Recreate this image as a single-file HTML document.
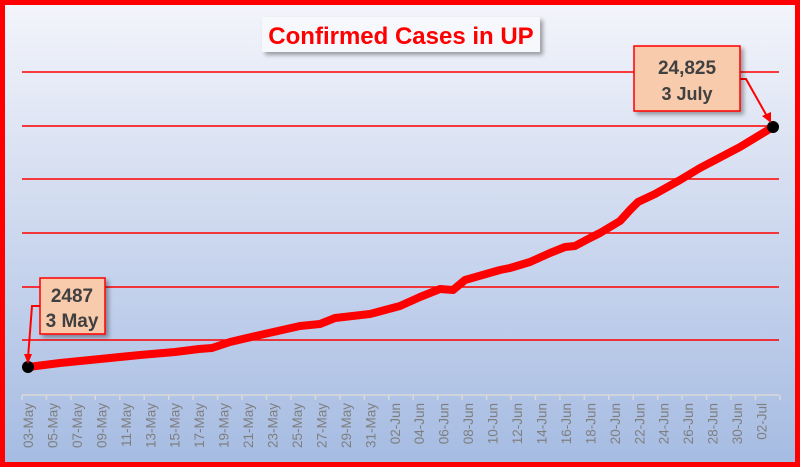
<!DOCTYPE html>
<html><head><style>
body{margin:0;width:800px;height:467px;overflow:hidden;font-family:"Liberation Sans",sans-serif}
</style></head><body>
<svg width="800" height="467" viewBox="0 0 800 467" xmlns="http://www.w3.org/2000/svg">
<defs>
<linearGradient id="bg" x1="0" y1="0" x2="0" y2="1">
<stop offset="0" stop-color="#f4f5fb"/><stop offset="1" stop-color="#a5bbe2"/>
</linearGradient>
<filter id="sh" x="-10%" y="-10%" width="130%" height="140%"><feDropShadow dx="3" dy="3" stdDeviation="2" flood-color="#000" flood-opacity="0.35"/></filter>
</defs>
<rect x="0" y="0" width="800" height="467" fill="url(#bg)"/>
<rect x="2.5" y="2.5" width="795" height="462" fill="none" stroke="#ff0000" stroke-width="5"/>
<g stroke="#ff0000" stroke-width="1.5">
<line x1="22" y1="72" x2="779" y2="72"/><line x1="22" y1="126" x2="779" y2="126"/>
<line x1="22" y1="179" x2="779" y2="179"/><line x1="22" y1="233" x2="779" y2="233"/>
<line x1="22" y1="287" x2="779" y2="287"/><line x1="22" y1="340" x2="779" y2="340"/>
</g>
<line x1="22" y1="395" x2="779" y2="395" stroke="#d9d9d9" stroke-width="1.5"/>
<g id="ticks" stroke="#d9d9d9" stroke-width="1.5"></g>
<g id="labels" font-size="13.5" fill="#7f7f7f" text-anchor="end"></g>
<polyline fill="none" stroke="#ff0000" stroke-width="8" stroke-linejoin="round" stroke-linecap="round"
points="28,367 60,363 100,359 140,355 175,352 199,349 212,348 230,342 260,335 300,326 320,324 335,318 370,314 400,306 420,297 440,289 453,290 465,280 500,270 510,268 530,262 550,253 565,247 575,246 590,238 600,233 620,221 630,210 638,202 655,194 680,180 700,168 740,147 773,127"/>
<circle cx="28" cy="367" r="6" fill="#000"/>
<circle cx="773" cy="127" r="6" fill="#000"/>
<rect x="262" y="17" width="278" height="35" fill="#f7f8fc" filter="url(#sh)"/>
<text x="401" y="44" text-anchor="middle" font-size="24" font-weight="bold" fill="#ff0000">Confirmed Cases in UP</text>
<polyline points="40,306 32,306 28,358" fill="none" stroke="#ff0000" stroke-width="2"/>
<polygon points="24,354 32,354 28,364" fill="#ff0000"/>
<rect x="40" y="278" width="65" height="56" fill="#f8cbad" stroke="#ff0000" stroke-width="1.5" filter="url(#sh)"/>
<text x="72" y="302" text-anchor="middle" font-size="19" font-weight="bold" fill="#404040">2487</text>
<text x="72" y="327" text-anchor="middle" font-size="19" font-weight="bold" fill="#404040">3 May</text>
<polyline points="740,79 746,79 768,118" fill="none" stroke="#ff0000" stroke-width="2"/>
<polygon points="762,116 771,112 771,123" fill="#ff0000"/>
<rect x="634" y="46" width="106" height="65" fill="#f8cbad" stroke="#ff0000" stroke-width="1.5" filter="url(#sh)"/>
<text x="687" y="74" text-anchor="middle" font-size="19" font-weight="bold" fill="#404040">24,825</text>
<text x="687" y="100" text-anchor="middle" font-size="18" font-weight="bold" fill="#404040">3 July</text>
</svg>
<script>
var names=["03-May","05-May","07-May","09-May","11-May","13-May","15-May","17-May","19-May","21-May","23-May","25-May","27-May","29-May","31-May","02-Jun","04-Jun","06-Jun","08-Jun","10-Jun","12-Jun","14-Jun","16-Jun","18-Jun","20-Jun","22-Jun","24-Jun","26-Jun","28-Jun","30-Jun","02-Jul"];
var t=document.getElementById('ticks'),l=document.getElementById('labels'),ns="http://www.w3.org/2000/svg";
for(var i=0;i<=31;i++){var x=22+i*24.45;var ln=document.createElementNS(ns,'line');ln.setAttribute('x1',x);ln.setAttribute('x2',x);ln.setAttribute('y1',395);ln.setAttribute('y2',400);t.appendChild(ln);}
names.forEach(function(n,i){var x=28+i*24.45+5;var tx=document.createElementNS(ns,'text');tx.setAttribute('transform','translate('+x+',403) rotate(-90)');tx.textContent=n;l.appendChild(tx);});
</script>
</body></html>
